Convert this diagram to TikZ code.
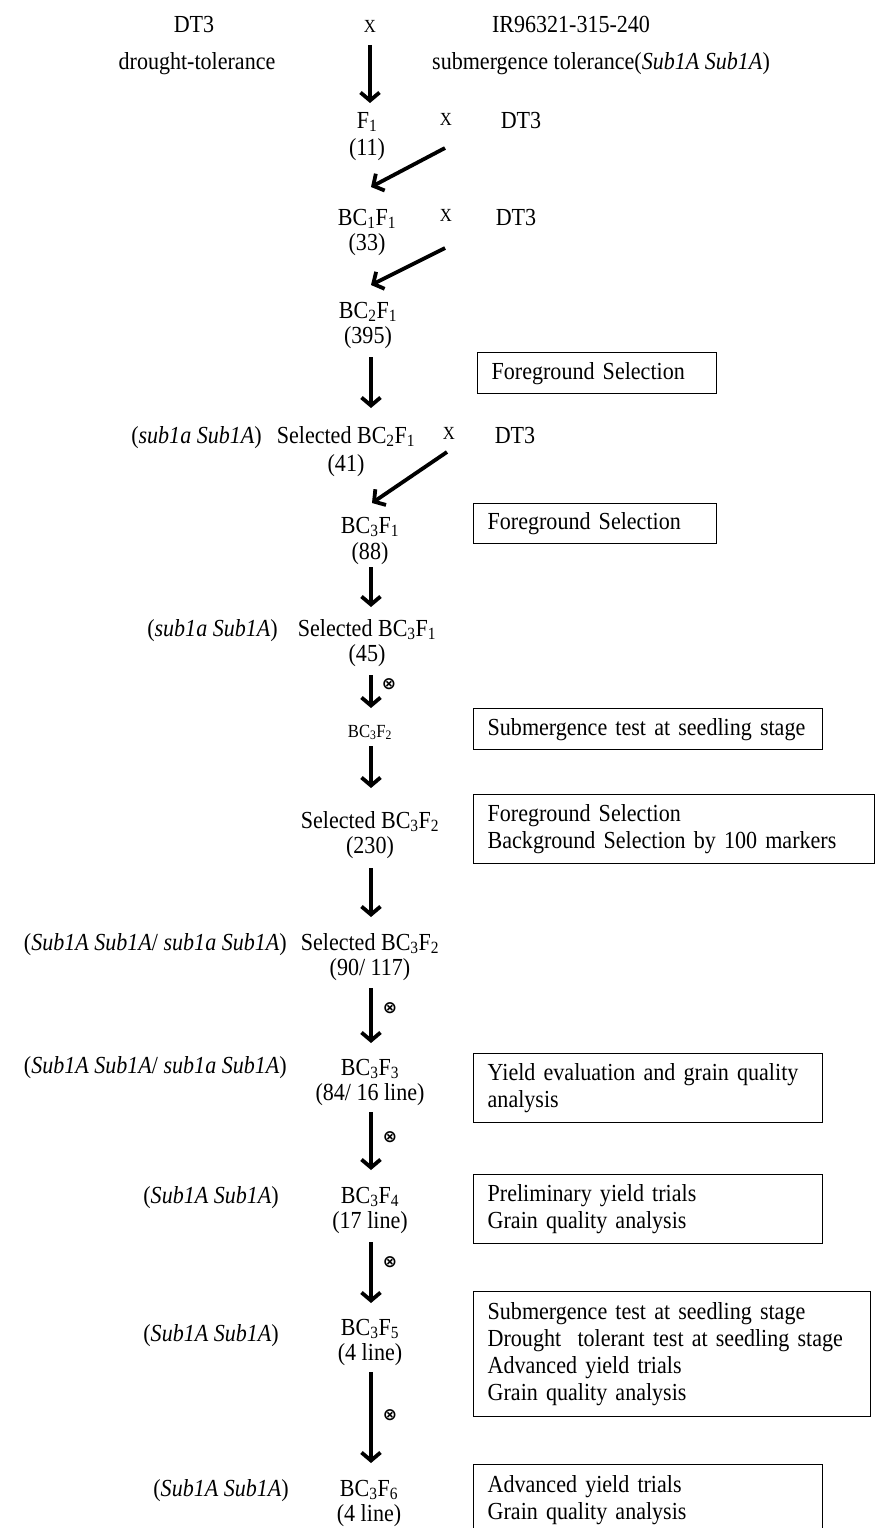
\documentclass[tikz,border=0pt]{standalone}
\usepackage{fontspec}
\setmainfont{Liberation Serif}[FakeStretch=0.9]
\newfontfamily\symfont{DejaVu Sans}
\usetikzlibrary{arrows.meta}
\tikzset{
  txt/.style={anchor=base, inner sep=0pt, font=\fontsize{24.5}{27}\selectfont},
  stage/.style={anchor=base, inner sep=0pt, align=center, font=\fontsize{24.5}{#1}\selectfont},
  stage/.default=25,
  smalltxt/.style={anchor=base, inner sep=0pt, font=\fontsize{18.5}{21}\selectfont},
  crossmark/.style={inner sep=0pt, font=\symfont\bfseries\fontsize{17}{17}\selectfont},
  infobox/.style={draw, line width=1.4pt, anchor=north west, inner xsep=14pt, inner ysep=0pt,
    align=left, font=\fontsize{24.5}{27}\selectfont},
  flow/.style={line width=3.8pt, -{Straight Barb[length=8pt, width=19pt]}},
}
\newcommand{\bcf}[2]{BC\textsubscript{#1}F\textsubscript{#2}}
\begin{document}
\begin{tikzpicture}[x=1pt,y=-1pt]
\useasboundingbox (0,0) rectangle (876,1528);
\clip (0,0) rectangle (876,1528);

% top parents
\node[txt] (dtA) at (194,33) {DT3};
\node[smalltxt] (xA) at (370,33) {X};
\node[txt] (ir) at (571,33) {IR96321-315-240};
\node[txt] (dtol) at (197,70) {drought-tolerance};
\node[txt, anchor=base west] (subtol) at (432,70) {submergence tolerance(\textit{Sub1A Sub1A})};

% F1 (anchor base = baseline of the last line)
\node[stage=27] (f1) at (367,155) {F\textsubscript{1}\\(11)};
\node[smalltxt] (xB) at (446,125) {X};
\node[txt] (dtB) at (521,128) {DT3};

% BC1F1
\node[stage=25] (bc1) at (367,250) {\bcf{1}{1}\\(33)};
\node[smalltxt] (xC) at (446,221) {X};
\node[txt] (dtC) at (516,225) {DT3};

% BC2F1
\node[stage=25] (bc2) at (368,343) {\bcf{2}{1}\\(395)};
\node[infobox, minimum width=239pt, minimum height=41pt, text width=211pt] (fs1) at (477,352) {Foreground Selection};

% Selected BC2F1
\node[txt, anchor=base east] (gA) at (262,443) {(\textit{sub1a Sub1A})};
\node[stage=28] (selbc2) at (346,471) {Selected \bcf{2}{1}\\(41)};
\node[smalltxt] (xD) at (449,439) {X};
\node[txt] (dtD) at (515,443) {DT3};

% BC3F1
\node[stage=26] (bc3f1) at (370,559) {\bcf{3}{1}\\(88)};
\node[infobox, minimum width=243pt, minimum height=40pt, text width=215pt] (fs2) at (473,503) {Foreground Selection};

% Selected BC3F1
\node[txt, anchor=base east] (gB) at (278,636) {(\textit{sub1a Sub1A})};
\node[stage=25] (selbc3f1) at (367,661) {Selected \bcf{3}{1}\\(45)};

% BC3F2
\node[smalltxt] (bc3f2) at (370,737) {\bcf{3}{2}};
\node[infobox, minimum width=349pt, minimum height=41pt, text width=321pt] (sub1) at (473,708) {Submergence test at seedling stage};

% Selected BC3F2 (230)
\node[stage=25] (selbc3f2a) at (370,853) {Selected \bcf{3}{2}\\(230)};
\node[infobox, minimum width=401pt, minimum height=69pt, text width=373pt] (fsbg) at (473,794) {Foreground Selection\\Background Selection by 100 markers};

% Selected BC3F2 (90/117)
\node[txt, anchor=base east] (gC) at (287,950) {(\textit{Sub1A Sub1A}/ \textit{sub1a Sub1A})};
\node[stage=25] (selbc3f2b) at (370,975) {Selected \bcf{3}{2}\\(90/ 117)};

% BC3F3
\node[txt, anchor=base east] (gD) at (287,1073) {(\textit{Sub1A Sub1A}/ \textit{sub1a Sub1A})};
\node[stage=25] (bc3f3) at (370,1100) {\bcf{3}{3}\\(84/ 16 line)};
\node[infobox, minimum width=349pt, minimum height=69pt, text width=321pt] (yield) at (473,1053) {Yield evaluation and grain quality\\analysis};

% BC3F4
\node[txt, anchor=base east] (gE) at (279,1203) {(\textit{Sub1A Sub1A})};
\node[stage=25] (bc3f4) at (370,1228) {\bcf{3}{4}\\(17 line)};
\node[infobox, minimum width=349pt, minimum height=69pt, text width=321pt] (prelim) at (473,1174) {Preliminary yield trials\\Grain quality analysis};

% BC3F5
\node[txt, anchor=base east] (gF) at (279,1341) {(\textit{Sub1A Sub1A})};
\node[stage=25] (bc3f5) at (370,1360) {\bcf{3}{5}\\(4 line)};
\node[infobox, minimum width=397pt, minimum height=125pt, text width=369pt] (adv) at (473,1291) {Submergence test at seedling stage\\Drought\ \ tolerant test at seedling stage\\Advanced yield trials\\Grain quality analysis};

% BC3F6
\node[txt, anchor=base east] (gG) at (289,1496) {(\textit{Sub1A Sub1A})};
\node[stage=25] (bc3f6) at (369,1521) {\bcf{3}{6}\\(4 line)};
\node[infobox, minimum width=349pt, minimum height=70pt, text width=321pt] (last) at (473,1464) {Advanced yield trials\\Grain quality analysis};

% self-cross marks
\node[crossmark] (c1) at (389,684) {⊗};
\node[crossmark] (c2) at (390,1008) {⊗};
\node[crossmark] (c3) at (390,1137) {⊗};
\node[crossmark] (c4) at (390,1262) {⊗};
\node[crossmark] (c5) at (390,1415) {⊗};

% arrow end points
\coordinate (a1s) at (370,45);   \coordinate (a1e) at (370,103);
\coordinate (d1s) at (445,148);  \coordinate (d1e) at (371,187);
\coordinate (d2s) at (445,248);  \coordinate (d2e) at (371,285);
\coordinate (a2s) at (371,357);  \coordinate (a2e) at (371,408);
\coordinate (d3s) at (447,452);  \coordinate (d3e) at (372,503);
\coordinate (a3s) at (371,567);  \coordinate (a3e) at (371,607);
\coordinate (a4s) at (371,675);  \coordinate (a4e) at (371,708);
\coordinate (a5s) at (371,746);  \coordinate (a5e) at (371,788);
\coordinate (a6s) at (371,868);  \coordinate (a6e) at (371,917);
\coordinate (a7s) at (371,988);  \coordinate (a7e) at (371,1043);
\coordinate (a8s) at (371,1112); \coordinate (a8e) at (371,1170);
\coordinate (a9s) at (371,1242); \coordinate (a9e) at (371,1303);
\coordinate (a10s) at (371,1372); \coordinate (a10e) at (371,1463);

\draw[flow] (a1s) -- (a1e);
\draw[flow] (d1s) -- (d1e);
\draw[flow] (d2s) -- (d2e);
\draw[flow] (a2s) -- (a2e);
\draw[flow] (d3s) -- (d3e);
\draw[flow] (a3s) -- (a3e);
\draw[flow] (a4s) -- (a4e);
\draw[flow] (a5s) -- (a5e);
\draw[flow] (a6s) -- (a6e);
\draw[flow] (a7s) -- (a7e);
\draw[flow] (a8s) -- (a8e);
\draw[flow] (a9s) -- (a9e);
\draw[flow] (a10s) -- (a10e);
\end{tikzpicture}
\end{document}
